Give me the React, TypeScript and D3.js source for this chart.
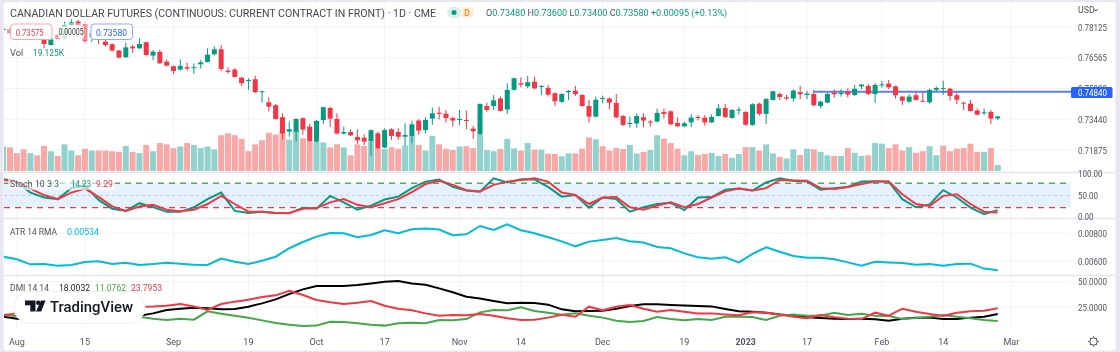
import React from "react";
import * as d3 from "d3";

// Prices are written in ten-thousandths of a US dollar.
const opens = [7798,7801,7781,7781,7760,7767,7747,7721,7772,7755,7823,7840,7828,7760,7767,7738,7725,7693,7659,7713,7704,7735,7667,7686,7637,7613,7596,7608,7603,7623,7635,7674,7699,7591,7596,7555,7538,7547,7481,7430,7415,7354,7281,7281,7349,7306,7230,7340,7401,7345,7271,7279,7254,7250,7233,7272,7200,7293,7279,7255,7259,7337,7289,7347,7377,7372,7350,7340,7340,7296,7269,7411,7411,7449,7393,7493,7527,7511,7535,7511,7503,7476,7432,7481,7489,7467,7411,7357,7447,7449,7427,7360,7322,7322,7354,7332,7332,7381,7384,7325,7308,7328,7355,7352,7328,7360,7401,7350,7388,7381,7315,7423,7371,7442,7472,7455,7449,7482,7467,7472,7411,7428,7479,7474,7482,7467,7511,7513,7472,7518,7525,7511,7459,7433,7466,7438,7430,7493,7499,7499,7466,7428,7423,7388,7374,7381,7348];
const highs = [7808,7806,7785,7790,7785,7770,7755,7760,7777,7840,7852,7848,7831,7790,7775,7755,7730,7696,7733,7721,7755,7738,7696,7696,7648,7616,7648,7632,7628,7645,7704,7713,7721,7608,7603,7560,7552,7564,7489,7455,7421,7374,7332,7349,7354,7320,7340,7408,7408,7374,7306,7293,7293,7267,7293,7281,7298,7298,7298,7323,7337,7344,7354,7403,7408,7391,7357,7391,7388,7310,7425,7428,7467,7459,7527,7555,7557,7564,7560,7518,7518,7479,7476,7493,7513,7471,7442,7459,7464,7454,7472,7366,7357,7374,7374,7340,7398,7399,7388,7354,7332,7369,7366,7366,7369,7421,7421,7396,7405,7384,7425,7428,7450,7489,7479,7467,7496,7513,7489,7493,7438,7479,7496,7496,7501,7518,7523,7523,7527,7538,7543,7515,7462,7472,7482,7484,7499,7510,7540,7503,7479,7433,7442,7399,7399,7391,7360];
const lows = [7794,7777,7762,7760,7755,7745,7704,7718,7750,7753,7820,7820,7733,7737,7726,7713,7687,7654,7655,7682,7701,7667,7645,7625,7611,7574,7591,7591,7574,7601,7632,7670,7589,7574,7555,7513,7493,7477,7428,7383,7342,7242,7255,7230,7264,7230,7227,7320,7305,7267,7266,7259,7218,7213,7157,7193,7196,7239,7239,7208,7222,7264,7272,7315,7344,7327,7306,7313,7293,7244,7264,7383,7391,7383,7371,7489,7506,7501,7496,7467,7459,7411,7428,7442,7462,7408,7327,7354,7425,7394,7349,7310,7301,7301,7303,7306,7328,7347,7313,7305,7305,7303,7338,7311,7325,7357,7350,7347,7367,7310,7311,7362,7320,7438,7442,7442,7433,7445,7445,7408,7399,7425,7454,7459,7455,7462,7496,7467,7428,7506,7496,7449,7416,7428,7438,7432,7423,7486,7467,7438,7421,7391,7383,7364,7366,7320,7340];
const closes = [7804,7781,7767,7767,7781,7747,7726,7755,7752,7823,7836,7823,7743,7781,7750,7721,7693,7657,7709,7704,7726,7670,7687,7628,7616,7589,7615,7601,7608,7633,7672,7699,7599,7584,7559,7527,7543,7481,7486,7408,7345,7272,7293,7345,7291,7233,7335,7405,7347,7271,7279,7262,7237,7230,7288,7196,7289,7259,7255,7264,7318,7286,7340,7374,7371,7350,7337,7345,7337,7283,7421,7391,7440,7386,7493,7552,7520,7532,7501,7513,7469,7435,7472,7488,7472,7411,7357,7443,7452,7428,7354,7315,7325,7360,7337,7327,7376,7371,7318,7308,7323,7352,7350,7328,7355,7399,7355,7391,7393,7316,7420,7371,7447,7486,7457,7449,7489,7471,7474,7415,7433,7472,7471,7477,7469,7499,7520,7472,7518,7521,7506,7466,7438,7459,7442,7435,7493,7503,7503,7462,7443,7423,7386,7367,7379,7347,7358];
// Volume in thousands of contracts.
const volumes = [78,75,57,69,57,50,80,63,48,85,65,50,71,65,65,65,63,61,80,61,57,83,63,89,85,73,78,89,83,73,78,69,114,120,114,102,63,85,98,122,116,125,100,129,104,96,93,91,75,85,75,50,85,80,95,72,70,76,71,81,112,83,65,112,85,71,67,78,79,73,118,67,63,70,102,72,65,89,68,68,55,54,47,56,56,71,107,101,79,65,73,70,83,56,61,67,114,103,89,71,50,63,51,55,58,48,54,42,54,76,76,65,85,56,45,40,69,51,71,69,61,50,48,48,73,58,48,50,89,87,73,85,65,76,58,63,79,50,81,63,71,73,87,61,61,73,19];
const volumeDownBars = [36, 38, 88, 138];
const volumeUpBars = [71, 95, 115];

// Indicators are read at every second bar.
const stochK = [90,84,57,45,41,68,74,39,17.5,12,31,21.4,9.7,9.7,21,41,57,12,7,10,7,6,20,17.5,49,33,15,25,40,47,68,84,89,71,62,59,92,82,90,89,71,47,51,20,45,41,10,21,29,32,14,45,46,64,67,62,82,92,86,84,64,68,71,84,85,84,41,21,28,63,45,20,4,14];
const stochD = [88,84,67,51,41,57,67,46.4,23,12,23,27,15,11,15,29,49,29,10,10,7,7,17.5,19,33,41,27,21,31,41,58,78,86,76,63,60,76,84,88,92,84,57,51,29,45,46,21,15,25,33,21,29,45,60,67,62,68,88,87,86,68,66,71,78,84,84,53,29,24,49,53,29,10,8];
const atr = [631,612,576,578,566,571,593,598,578,588,571,578,588,581,573,571,617,595,578,602,631,692,737,776,802,800,771,788,822,800,829,834,827,786,793,853,824,865,822,800,771,742,706,740,752,766,742,733,701,692,655,627,617,627,590,651,699,667,636,624,624,612,590,566,595,590,586,573,578,566,578,581,545,534];
const adx = [15.4,13.5,12.1,11.5,10.5,10.2,10.5,11.5,12.1,13.5,16.4,18.7,22,23.3,24.3,23.7,22.7,23,25.3,28.6,32.5,37.8,42.4,45.7,45.7,45.7,46.7,48.3,50,50.6,48.3,47,43.4,39.5,35.2,33.5,30.9,28.6,29.3,28.9,27.3,22.7,20.7,21,21.4,23.3,26,27.6,27.6,27,26.6,26,25.6,23,20.7,20.4,19.4,17.7,16.4,14.8,14.1,13.5,13.1,13.5,12.8,11.5,13.5,14.5,14.5,13.1,13.1,14.5,15.4,18];
const diPlus = [17,16.1,17,18.1,17,15.4,16.1,17,16.1,15.4,15.4,13.5,12.1,13.5,12.5,20.7,18.4,16.4,14.4,11.8,9.2,7.5,6.2,6.6,10.5,10.2,8.9,7.5,6.6,8.9,9.5,8.9,12.1,11.8,13.1,19.7,22,21.7,24.7,21,19.4,17.4,18.7,16.4,14.5,11.5,10.2,11.2,15.1,13.1,11.8,13.1,12.1,15.4,15.4,15,12.1,16.4,17.7,16.4,16.4,19.4,17,18.4,16.4,16.1,13.1,14.1,15.4,17,15.4,13.8,12.1,11.08];
const diMinus = [17,18.7,20.4,19.4,20.4,22,20.4,22,22.7,24.7,25.3,25.6,26.3,28,25.6,22,28,30.3,32.2,34.9,36.5,41.1,36.8,31.9,29.6,28,29.3,30.9,26.3,23.3,21.7,18.7,16.4,17,16.8,18,16.4,13.8,12.2,12.5,14.5,17.4,15.4,25.3,21.7,25.3,27,23.3,20.4,22,20.4,18.7,18.7,17.7,16.8,19.7,19.4,17.7,15.4,13.8,17,14.8,13.5,13.1,19.4,16.4,23.3,20.4,18,16.1,19.4,20.7,21.4,23.8];

const dateBars = [2,12,25,36,46,56,67,76,88,100,109,118,129,138,148];
const dateLabels = ["Aug","15","Sep","19","Oct","17","Nov","14","Dec","19","2023","17","Feb","14","Mar"];
const priceTicks = [0.78125,0.76565,0.75,0.7344,0.71875];
const stochTicks = [100,50,0];
const atrTicks = [0.008,0.006];
const dmiTicks = [50,25];
const horizontalLevel = 0.7484;
const horizontalFromBar = 119;

const FONT = "Roboto, 'Open Sans', sans-serif";
const UP = "#089981", DOWN = "#f23645", UPV = "#92d2cc", DOWNV = "#f7a9a7";
const GRID = "#f2f3f6", TXT = "#50535e", GREEN = "#43a84a";
const L = 4, R = 1071, AXX = 1078;

const x = d3.scaleLinear().domain([0, 146]).range([3.19, 997.7]);
const yP = d3.scaleLinear().domain([0.78125, 0.71875]).range([27, 150]);
const yV = d3.scaleLinear().domain([0, 120]).range([171, 133.35]);
const yS = d3.scaleLinear().domain([0, 100]).range([215.8, 175.1]);
const yA = d3.scaleLinear().domain([0.006, 0.008]).range([261, 233.3]);
const yD = d3.scaleLinear().domain([25, 50]).range([307, 281.7]);
const every2 = d3.range(0, 147, 2);
const pathOf = (vals: number[], y: (v: number) => number) =>
  d3.line<number>().x((_, i) => x(every2[i])).y((v) => y(v))(vals) ?? "";

const Label = ({ tx, ty, fill = TXT, size = 9.3, children, anchor = "start", weight = 400, len }: any) => (
  <text x={tx} y={ty} fill={fill} fontSize={size} textAnchor={anchor} fontWeight={weight} dominantBaseline="central"
    {...(len ? { textLength: len, lengthAdjust: "spacingAndGlyphs" } : {})}>{children}</text>
);
// The figures of the reference are set narrow: 4.5px a digit and 2px a point.
const numLen = (s: string) => s.replace(/[^0-9]/g, "").length * 4.5 + 2;
const Num = ({ s, ...p }: any) => <Label {...p} len={numLen(s)}>{s}</Label>;

export default function App() {
  const volUp = (i: number) =>
    volumeUpBars.includes(i) ? true : volumeDownBars.includes(i) ? false : closes[i] >= opens[i];
  return (
    <svg width={1120} height={352} style={{ position: "fixed", left: 0, top: 0, display: "block", filter: "blur(0.3px)" }} fontFamily={FONT}>
      <defs>
        <clipPath id="pm"><rect x={L} y={3} width={R - L} height={168.5} /></clipPath>
        <clipPath id="ps"><rect x={L} y={172} width={R - L} height={46} /></clipPath>
        <clipPath id="pa"><rect x={L} y={219} width={R - L} height={56} /></clipPath>
        <clipPath id="pd"><rect x={L} y={276} width={R - L} height={52} /></clipPath>
      </defs>
      <rect width={1120} height={352} fill="#e6e7f0" />
      <rect x={3.5} y={2} width={1112} height={348.5} rx={3} fill="#fff" />

      {dateBars.map((b, i) => (
        <line key={i} x1={x(b)} x2={x(b)} y1={3} y2={328} stroke={GRID} />
      ))}
      {priceTicks.map((t) => <line key={t} x1={L} x2={R} y1={yP(t)} y2={yP(t)} stroke={GRID} />)}
      {atrTicks.map((t) => <line key={t} x1={L} x2={R} y1={yA(t)} y2={yA(t)} stroke={GRID} />)}
      {dmiTicks.map((t) => <line key={t} x1={L} x2={R} y1={yD(t)} y2={yD(t)} stroke={GRID} />)}

      <g clipPath="url(#pm)">
        {volumes.map((v, i) => (
          <rect key={i} x={x(i) - 3} width={6} y={yV(v)} height={yV(0) - yV(v)} fill={volUp(i) ? UPV : DOWNV} />
        ))}
        <line x1={x(horizontalFromBar)} x2={R} y1={yP(horizontalLevel)} y2={yP(horizontalLevel)} stroke="#5b7ff0" strokeWidth={2} />
        {opens.map((o, i) => {
          const c = closes[i], col = c >= o ? UP : DOWN;
          const top = yP(Math.max(o, c) / 1e4), bot = yP(Math.min(o, c) / 1e4);
          return (
            <g key={i} fill={col}>
              <rect x={x(i) - 0.5} width={1} y={yP(highs[i] / 1e4)} height={yP(lows[i] / 1e4) - yP(highs[i] / 1e4)} />
              <rect x={x(i) - 2.5} width={5} y={top} height={Math.max(1, bot - top)} />
            </g>
          );
        })}
      </g>

      {[172.5, 218.5, 275.5].map((yy) => <line key={yy} x1={3.5} x2={1115} y1={yy} y2={yy} stroke="#e4e6ec" strokeWidth={1.3} />)}

      <g clipPath="url(#ps)">
        <rect x={L} y={yS(80)} width={R - L} height={yS(20) - yS(80)} fill="#e5f2fd" />
        <line x1={L} x2={R} y1={yS(50)} y2={yS(50)} stroke="#b8bcc6" strokeWidth={0.8} strokeDasharray="3 3" />
        <line x1={L} x2={R} y1={yS(80)} y2={yS(80)} stroke="#4caf50" strokeWidth={1.4} strokeDasharray="6 5" />
        <line x1={L} x2={R} y1={yS(20)} y2={yS(20)} stroke="#f23645" strokeWidth={1.4} strokeDasharray="6 5" />
        <path d={pathOf(stochK, yS)} fill="none" stroke={UP} strokeWidth={2} />
        <path d={pathOf(stochD, yS)} fill="none" stroke={DOWN} strokeWidth={2} />
      </g>
      <g clipPath="url(#pa)">
        <path d={pathOf(atr.map((v) => v / 1e5), yA)} fill="none" stroke="#00bcd4" strokeWidth={2} />
      </g>
      <g clipPath="url(#pd)">
        <path d={pathOf(adx, yD)} fill="none" stroke="#000" strokeWidth={2} />
        <path d={pathOf(diPlus, yD)} fill="none" stroke={GREEN} strokeWidth={2} />
        <path d={pathOf(diMinus, yD)} fill="none" stroke={DOWN} strokeWidth={2} />
      </g>

      {/* axis */}
      {priceTicks.map((t) => <Num key={t} tx={AXX} ty={yP(t)} s={t.toFixed(5)} />)}
      {stochTicks.map((t) => <Num key={t} tx={AXX} ty={yS(t) - (t === 100 ? 2 : t === 0 ? -0.5 : 0)} s={t.toFixed(2)} />)}
      {atrTicks.map((t) => <Num key={t} tx={AXX} ty={yA(t)} s={t.toFixed(5)} />)}
      {dmiTicks.map((t) => <Num key={t} tx={AXX} ty={yD(t)} s={t.toFixed(4)} />)}
      <rect x={1071} y={87} width={41.5} height={11} rx={1.5} fill="#2962ff" />
      <Num tx={1078} ty={92.7} fill="#fff" s={horizontalLevel.toFixed(5)} />
      <Label tx={1078} ty={10} size={8.8}>USD</Label>
      <path d="M1094 9l2 2 2-2" fill="none" stroke={TXT} />
      <g stroke={TXT} fill="none">
        <circle cx={1093.5} cy={341.5} r={3.7} />
        {d3.range(8).map((k) => {
          const a = (k * Math.PI) / 4;
          return <line key={k} x1={1093.5 + 3.7 * Math.cos(a)} y1={341.5 + 3.7 * Math.sin(a)} x2={1093.5 + 5.2 * Math.cos(a)} y2={341.5 + 5.2 * Math.sin(a)} />;
        })}
      </g>
      {dateLabels.map((d, i) => (
        <Label key={i} tx={x(dateBars[i])} ty={341.5} anchor="middle" size={d === "2023" ? 8.8 : 9} weight={d === "2023" ? 700 : 400}>{d}</Label>
      ))}

      {/* legend */}
      <Label tx={10} ty={13} size={10.6} fill="#44474f">CANADIAN DOLLAR FUTURES (CONTINUOUS: CURRENT CONTRACT IN FRONT) · 1D · CME</Label>
      <rect x={447} y={7} width={14} height={11} rx={5.5} fill="#d8f0ec" />
      <rect x={460} y={7} width={14} height={11} rx={5.5} fill="#fdeee2" />
      <circle cx={454} cy={12.5} r={2.5} fill={UP} />
      <Label tx={467} ty={13} anchor="middle" size={8.5} fill="#f7931e" weight={700}>D</Label>
      <text x={486} y={13} fontSize={9.1} dominantBaseline="central" fill={UP}>
        <tspan fill={TXT}>O</tspan>0.73480 <tspan fill={TXT}>H</tspan>0.73600 <tspan fill={TXT}>L</tspan>0.73400 <tspan fill={TXT}>C</tspan>0.73580 +0.00095 (+0.13%)
      </text>

      <rect x={8} y={23} width={125} height={17} fill="#fff" opacity={0.45} />
      <rect x={10.5} y={24} width={41.5} height={15.5} rx={3} fill="#fff" stroke="#f7a9a7" />
      <Label tx={15.7} ty={32} size={9.3} len={28} fill={DOWN}>0.73575</Label>
      <rect x={58} y={26} width={26} height={12} fill="#fff" opacity={0.7} />
      <Label tx={58.5} ty={32} size={8.5} len={25} fill="#333">0.00005</Label>
      <rect x={91} y={24} width={41.5} height={15.5} rx={3} fill="#fff" stroke="#8ea9fa" />
      <Label tx={96} ty={32} size={9.3} len={31} fill="#2962ff">0.73580</Label>

      <Label tx={10} ty={52}>Vol</Label>
      <Label tx={33} ty={52} len={31} fill={UP}>19.125K</Label>

      <rect x={8} y={177} width={107} height={13} fill="#fff" opacity={0.6} />
      <Label tx={10} ty={183} len={49}>Stoch 10 3 3</Label>
      <Label tx={71} ty={183} len={20} fill={UP}>14.23</Label>
      <Label tx={96} ty={183} len={17} fill={DOWN}>9.29</Label>
      <Label tx={10} ty={231} len={47}>ATR 14 RMA</Label>
      <Label tx={67} ty={231} len={32} fill="#00bcd4">0.00534</Label>
      <Label tx={10} ty={287.5} len={39}>DMI 14 14</Label>
      <Label tx={59} ty={287.5} len={31} fill="#222">18.0032</Label>
      <Label tx={95} ty={287.5} len={31} fill={GREEN}>11.0762</Label>
      <Label tx={131} ty={287.5} len={31} fill={DOWN}>23.7953</Label>

      {/* attribution */}
      <rect x={14} y={291.5} width={131} height={32} rx={16} fill="#fff" stroke="#eceef2" />
      <g fill="#131722">
        <path d="M25 300.5h10.5v11h-5.2v-6.2h-5.3z" />
        <circle cx={38.3} cy={302.8} r={2.3} />
        <path d="M41 300.5h4.5l-4.3 11h-5.2z" />
      </g>
      <Label tx={50} ty={306.5} size={15} len={83} fill="#131722" weight={500}>TradingView</Label>
    </svg>
  );
}
